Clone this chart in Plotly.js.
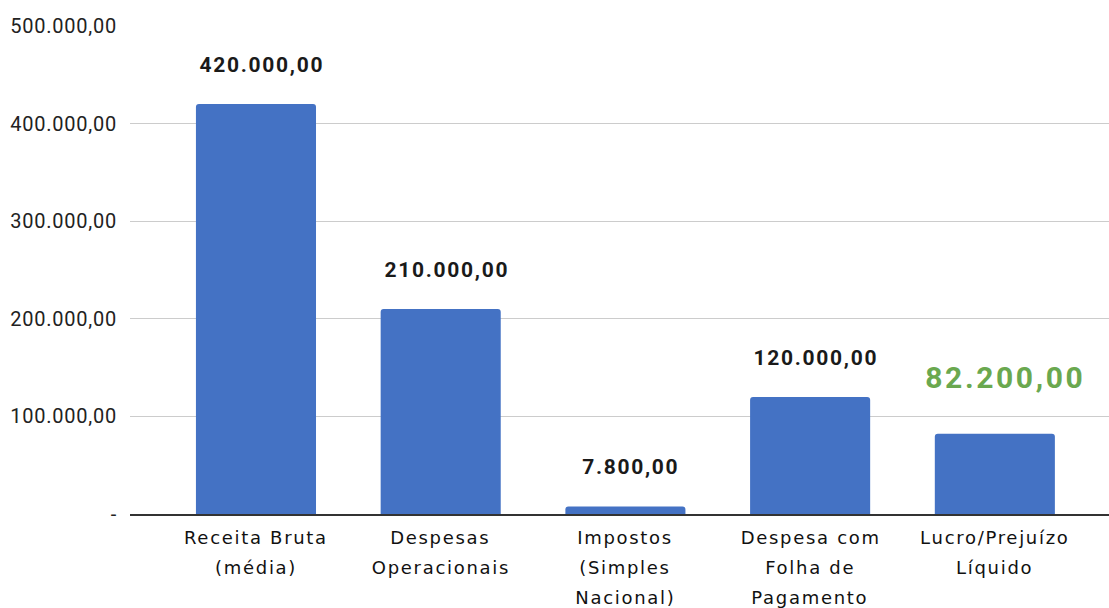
<!DOCTYPE html>
<html>
<head>
<meta charset="utf-8">
<script src="https://cdn.plot.ly/plotly-3.0.1.min.js"></script>
<style>
  html, body { margin: 0; padding: 0; background: #fff; }
  #chart { width: 1109px; height: 608px; }
  #chart .ytick text { letter-spacing: 0.75px; }
  #chart .annotation text { letter-spacing: 1.7px; }
  #chart .annotation[data-index="4"] text { letter-spacing: 2.6px; }
</style>
</head>
<body>
<div id="chart"></div>
<script>
// ---- data ----
const categories = [
  "Receita Bruta<br>(média)",
  "Despesas<br>Operacionais",
  "Impostos<br>(Simples<br>Nacional)",
  "Despesa com<br>Folha de<br>Pagamento",
  "Lucro/Prejuízo<br>Líquido"
];
const values = [420000, 210000, 7800, 120000, 82200];
const highlightIndex = 4;
const yTickVals = [0, 100000, 200000, 300000, 400000, 500000];
const yTickText = ["-", "100.000,00", "200.000,00", "300.000,00", "400.000,00", "500.000,00"];

// ---- helpers ----
function fmtBR(v) {
  const parts = v.toFixed(2).split(".");
  parts[0] = parts[0].replace(/\B(?=(\d{3})+(?!\d))/g, ".");
  return parts[0] + "," + parts[1];
}

const xIdx = categories.map((c, i) => i);

const trace = {
  type: "bar",
  x: xIdx,
  y: values,
  width: 0.65,
  marker: { color: "#4472c4", cornerradius: 3 },
  hoverinfo: "skip"
};

const annotations = [];
values.forEach((v, i) => {
  const hl = i === highlightIndex;
  annotations.push({
    x: i, y: v, xref: "x", yref: "y",
    text: fmtBR(v),
    showarrow: false,
    yanchor: "bottom",
    yshift: hl ? 37 : 25,
    xshift: hl ? 11 : 6,
    font: hl
      ? { family: "Roboto", size: 30, weight: 700, color: "#6aa84f" }
      : { family: "Roboto", size: 21, weight: 700, color: "#1a1a1a" }
  });
});
categories.forEach((c, i) => {
  c.split("<br>").forEach((line, j) => {
    annotations.push({
      x: i, y: 0, xref: "x", yref: "paper",
      text: line,
      showarrow: false,
      yanchor: "middle",
      yshift: -(23 + j * 30),
      font: { family: "DejaVu Sans", size: 18, color: "#111" }
    });
  });
});

const layout = {
  width: 1109, height: 608,
  margin: { l: 130, r: 0, t: 26, b: 94 },
  paper_bgcolor: "#fff",
  plot_bgcolor: "#fff",
  showlegend: false,
  xaxis: {
    range: [-0.682, 4.618],
    showticklabels: false,
    showgrid: false,
    zeroline: false,
    showline: true,
    linecolor: "#333",
    linewidth: 1.5,
    ticks: ""
  },
  yaxis: {
    range: [0, 500000],
    tickvals: yTickVals,
    ticktext: yTickText,
    showgrid: true,
    gridcolor: "#cccccc",
    gridwidth: 1,
    zeroline: false,
    showline: false,
    ticks: "",
    ticklabelstandoff: 12,
    tickfont: { family: "Roboto", size: 20, color: "#222" }
  },
  annotations: annotations
};

Plotly.newPlot("chart", [trace], layout, { displayModeBar: false, staticPlot: true });
</script>
</body>
</html>
